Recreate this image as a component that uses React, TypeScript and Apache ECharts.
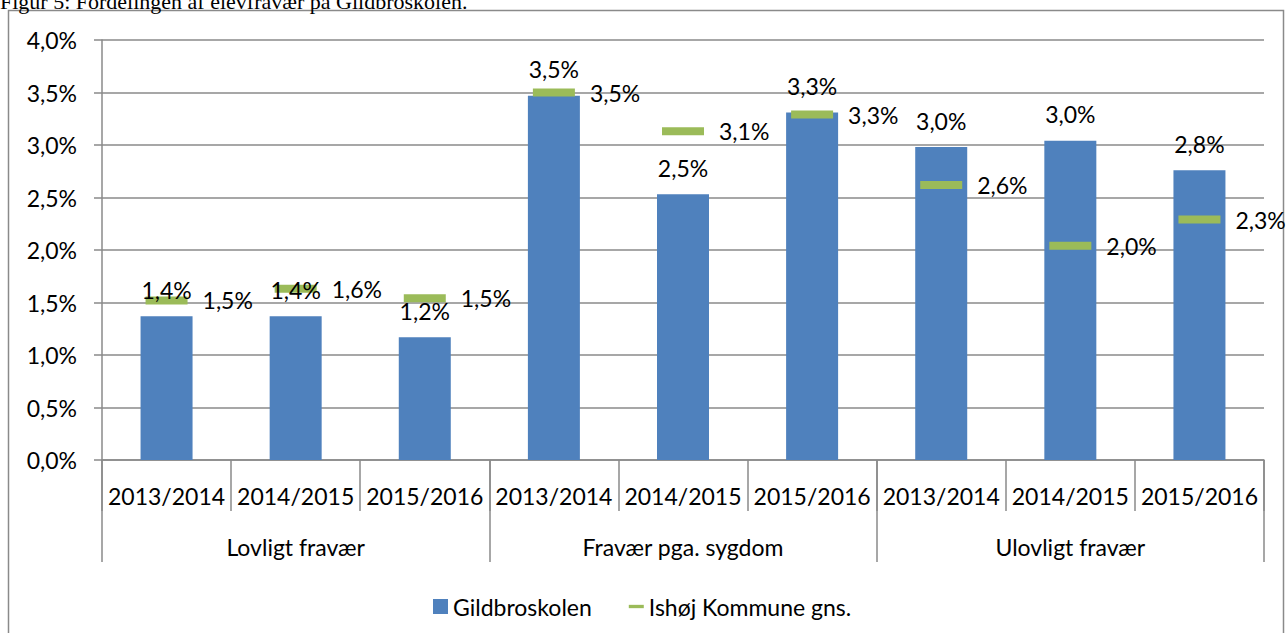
import React, { useEffect, useRef } from "react";
import * as echarts from "echarts";

const categories = ["2013/2014", "2014/2015", "2015/2016", "2013/2014", "2014/2015", "2015/2016", "2013/2014", "2014/2015", "2015/2016"];
const groups = ["Lovligt fravær", "Fravær pga. sygdom", "Ulovligt fravær"];
const gildbro = [1.37, 1.37, 1.17, 3.47, 2.53, 3.31, 2.98, 3.04, 2.76];
const ishoj = [1.52, 1.63, 1.54, 3.5, 3.13, 3.29, 2.62, 2.04, 2.29];
const yTicks = { min: 0, max: 4, interval: 0.5 };
const titleText = "Figur 5: Fordelingen af elevfravær på Gildbroskolen.";

const FONT = "Lato";
const FS = 23;
const GRAY = "#8a8a8a";
const fmt = (v: number) => v.toFixed(1).replace(".", ",") + "%";

export default function App() {
  const ref = useRef<HTMLDivElement>(null);
  useEffect(() => {
    const chart = echarts.init(ref.current!, null, { renderer: "svg" });
    const grid = { left: 102, right: 22, top: 40, bottom: 173 };
    const labelBase = {
      show: true,
      fontSize: FS,
      fontFamily: FONT,
      fontWeight: "normal",
      color: "#000",
      textBorderWidth: 0,
      formatter: (p: any) => fmt(p.value),
    };
    chart.setOption({
      animation: false,
      textStyle: { fontFamily: FONT },
      grid: [grid, { ...grid }],
      legend: {
        left: 428,
        top: 590,
        itemWidth: 15,
        itemHeight: 15,
        itemGap: 37,
        textStyle: { fontFamily: FONT, fontSize: FS, color: "#000" },
        data: [
          { name: "Gildbroskolen", icon: "rect" },
          { name: "Ishøj Kommune gns.", icon: "path://M0,0H18V4H0Z" },
        ],
      },
      xAxis: [
        {
          type: "category",
          gridIndex: 0,
          data: categories,
          axisLine: { lineStyle: { color: GRAY, width: 1.5 } },
          axisTick: { show: true, interval: 0, length: 51, lineStyle: { color: GRAY, width: 1.5 } },
          axisLabel: { interval: 0, margin: 24, fontSize: FS, color: "#000", fontFamily: FONT },
        },
        {
          type: "category",
          gridIndex: 1,
          data: groups,
          axisLine: { show: false },
          axisTick: { show: true, interval: 0, length: 102, lineStyle: { color: GRAY, width: 1.5 } },
          axisLabel: { interval: 0, margin: 75, fontSize: FS, color: "#000", fontFamily: FONT },
        },
      ],
      yAxis: [
        {
          type: "value",
          gridIndex: 0,
          min: yTicks.min,
          max: yTicks.max,
          interval: yTicks.interval,
          axisLine: { show: true, lineStyle: { color: GRAY, width: 1.5 } },
          axisTick: { show: true, length: 8, lineStyle: { color: GRAY, width: 1.5 } },
          splitLine: { show: true, lineStyle: { color: GRAY, width: 1.5 } },
          axisLabel: { margin: 25, fontSize: FS, color: "#000", fontFamily: FONT, formatter: (v: number) => fmt(v) },
        },
        { type: "value", gridIndex: 1, min: 0, max: 4, show: false },
      ],
      series: [
        {
          name: "Gildbroskolen",
          type: "bar",
          xAxisIndex: 0,
          yAxisIndex: 0,
          data: gildbro,
          barWidth: 52,
          z: 2,
          itemStyle: { color: "#4F81BD", opacity: 1 },
          label: { show: false },
        },
        {
          name: "Ishøj Kommune gns.",
          type: "scatter",
          xAxisIndex: 0,
          yAxisIndex: 0,
          data: ishoj,
          symbol: "rect",
          symbolSize: [42, 8],
          z: 4,
          itemStyle: { color: "#9BBB59", opacity: 1 },
          label: { ...labelBase, position: "right", distance: 15 },
        },
        {
          name: "GildbroLabels",
          type: "scatter",
          xAxisIndex: 0,
          yAxisIndex: 0,
          data: gildbro,
          symbol: "rect",
          symbolSize: 0.1,
          z: 6,
          silent: true,
          itemStyle: { color: "rgba(0,0,0,0)", opacity: 1 },
          label: { ...labelBase, position: "top", distance: 15 },
        },
      ],
      graphic: [
        {
          type: "rect",
          shape: { x: 8.5, y: 10.5, width: 1275, height: 700 },
          style: { fill: "none", stroke: GRAY, lineWidth: 1.5 },
          silent: true,
        },
        {
          type: "text",
          x: 0,
          y: 12,
          style: {
            text: titleText,
            font: "22px 'Liberation Serif'",
            fill: "#000",
            verticalAlign: "bottom",
          },
          silent: true,
        },
      ],
    });
    return () => chart.dispose();
  }, []);
  return <div ref={ref} style={{ position: "fixed", left: 0, top: 0, width: 1286, height: 633, background: "#fff" }} />;
}
